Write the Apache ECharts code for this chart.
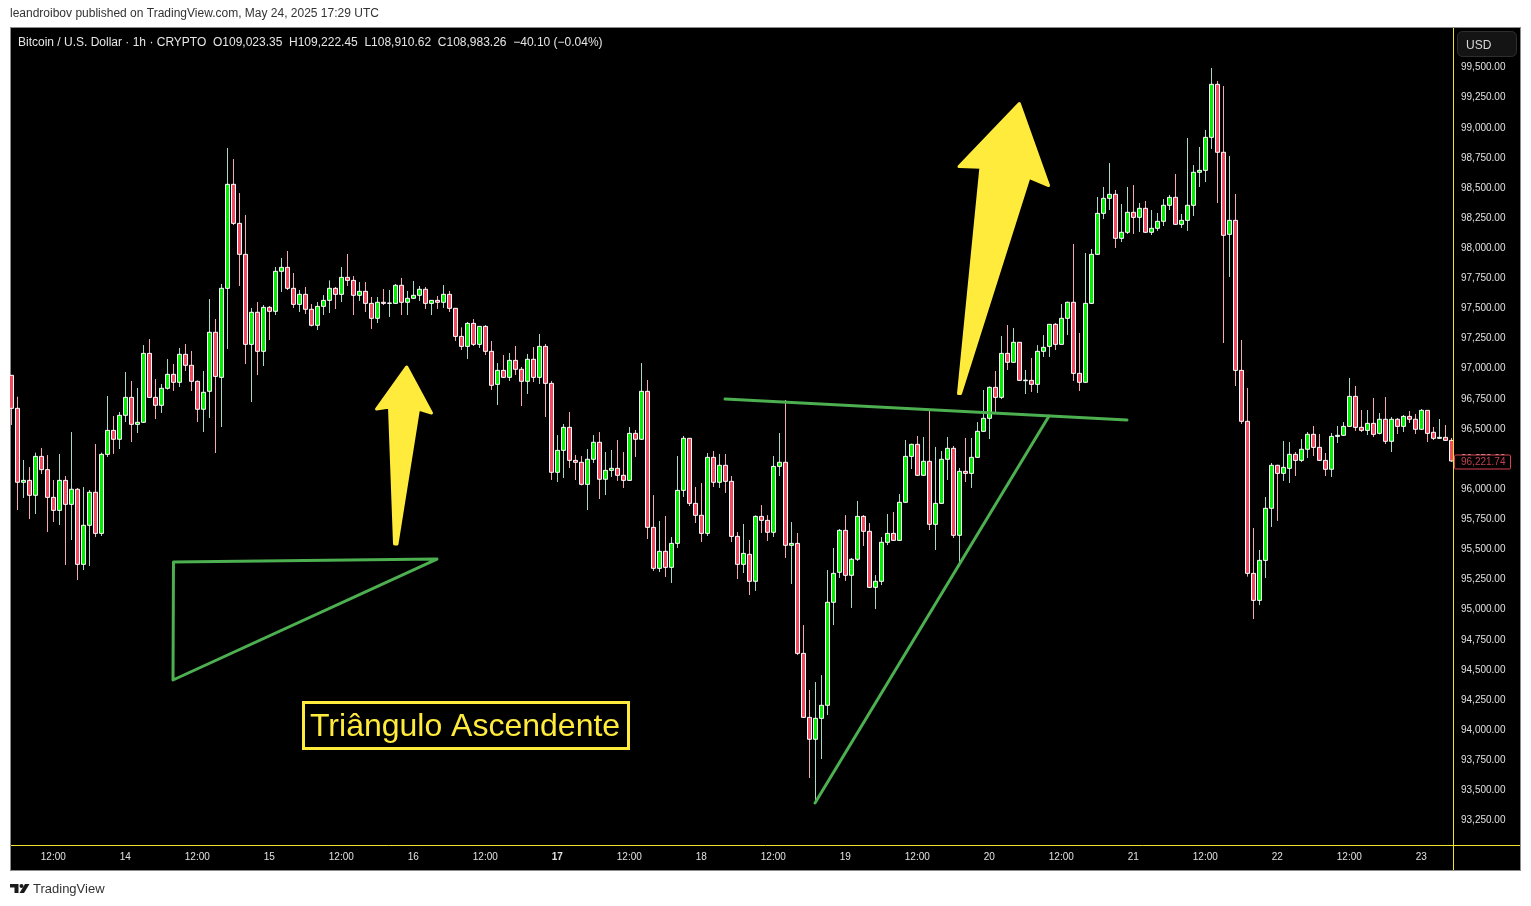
<!DOCTYPE html>
<html>
<head>
<meta charset="utf-8">
<title>Bitcoin / U.S. Dollar</title>
<script src="https://cdn.jsdelivr.net/npm/echarts@6/dist/echarts.min.js"></script>
<style>
    html, body { margin: 0; padding: 0; background: #ffffff; }
    #panel { position: absolute; left: 10px; top: 27px; width: 1509px; height: 842px; background: #000000; border: 1px solid #8c8c8c; box-sizing: content-box; }
    #main { position: absolute; left: 0; top: 0; width: 1531px; height: 906px; }
</style>
</head>
<body>
<div id="panel"></div>
<div id="main"></div>
<script>
// 1 hour candles, index 0 = first visible bar
var opens = [
    96933,96659,96045,96061,95937,96260,96150,95920,95812,96061,
    95862,95987,95364,95688,95962,95621,96277,96476,96402,96601,
    96750,96526,96543,97115,96750,96684,96825,96941,96875,97107,
    97016,96883,96651,96800,97290,96916,97655,98518,98194,97937,
    97190,97456,97132,97497,97464,97796,97829,97655,97522,97605,
    97481,97348,97505,97555,97655,97605,97746,97721,97597,97630,
    97530,97406,97539,97530,97530,97680,97539,97572,97597,97647,
    97530,97555,97539,97605,97489,97256,97173,97364,97190,97339,
    97132,96858,96974,96916,97057,96983,96883,97066,96916,97173,
    96866,96128,96310,96501,96227,96211,96028,96236,96377,96070,
    96144,96161,96103,96061,96451,96402,96800,95671,95331,95472,
    95339,95538,95978,96410,95870,95771,95621,96252,96045,96186,
    96053,95596,95364,95447,95223,95762,95729,95630,96177,96211,
    95522,95538,94625,94094,93912,94086,94194,95049,95298,95646,
    95273,95406,95762,95638,95173,95223,95547,95621,95563,95879,
    96260,96360,96103,96219,95696,95870,96236,96327,95605,96136,
    96119,96252,96468,96576,96833,96750,97115,97041,97207,96888,
    96891,96858,97132,97173,97356,97190,97406,97539,96949,96875,
    97530,97937,98277,98402,98435,98070,98120,98286,98244,98319,
    98120,98153,98211,98344,98410,98186,98219,98344,98618,98634,
    98908,99348,98784,98103,98219,96974,96551,95289,95065,95397,
    95829,96186,96119,96161,96277,96227,96319,96443,96335,96227,
    96153,96426,96435,96509,96758,96501,96476,96534,96451,96568,
    96385,96568,96509,96592,96568,96485,96642,96460,96410,96418,
    96393
];
var highs = [
    96933,96756,96230,96172,96291,96330,96271,96064,96280,96097,
    96462,95998,96006,95981,96363,96291,96761,96595,96628,96960,
    96886,96828,97184,97234,96902,96861,97068,97027,97160,97193,
    97135,96890,96969,97566,97400,97691,98820,98728,98446,98264,
    97492,97541,97516,97508,97832,97907,97965,97782,97641,97666,
    97525,97541,97599,97721,97666,97832,97940,97757,97707,97707,
    97583,97583,97649,97641,97691,97741,97633,97716,97674,97666,
    97558,97591,97682,97633,97489,97331,97375,97400,97342,97350,
    97218,97035,97101,97118,97176,97002,97110,97168,97276,97193,
    96886,96437,96529,96628,96272,96263,96321,96437,96462,96296,
    96313,96396,96296,96504,96479,97035,96894,95939,95724,95765,
    95591,96263,96429,96410,96006,96039,96288,96305,96280,96280,
    96097,95632,95699,95566,95770,95856,95773,96263,96454,96728,
    95715,95624,94860,94321,94387,94445,95317,95500,95657,95773,
    95417,95890,95773,95707,95275,95591,95782,95798,95948,96396,
    96365,96429,96421,96637,96338,96305,96421,96346,96164,96413,
    96413,96545,96811,96840,96969,97259,97350,97326,97209,96977,
    97077,97184,97267,97359,97367,97525,97545,98023,97284,97948,
    97981,98413,98496,98695,98471,98355,98496,98512,98363,98380,
    98305,98280,98396,98430,98604,98272,98903,98678,98828,98969,
    99484,99376,99334,98753,98438,97226,96828,95666,95483,95923,
    96205,96190,96388,96379,96296,96404,96462,96512,96446,96288,
    96454,96512,96545,96911,96844,96645,96645,96745,96620,96753,
    96587,96579,96603,96637,96612,96653,96645,96504,96570,96520,
    96413
];
var lows = [
    96520,95815,95915,95740,95782,96114,95632,95715,95690,95358,
    95566,95234,95317,95350,95591,95599,96255,96280,96321,96545,
    96379,96454,96537,96745,96570,96620,96814,96803,96836,96969,
    96803,96545,96462,96579,96288,96504,97151,98180,97674,97027,
    96711,96935,97010,97226,97433,97624,97641,97492,97458,97442,
    97339,97309,97433,97450,97483,97541,97674,97433,97550,97458,
    97317,97367,97516,97417,97525,97433,97433,97566,97550,97483,
    97433,97483,97492,97458,97218,97143,97068,97176,97160,97101,
    96811,96686,96911,96886,96936,96678,96778,96877,96861,96587,
    96064,96047,96081,96164,96064,96020,95815,96205,95906,95939,
    96089,96056,95998,96056,96255,96396,95574,95309,95300,95259,
    95209,95500,95923,95848,95707,95549,95599,96006,95998,95956,
    95549,95242,95292,95109,95143,95624,95558,95591,96097,95417,
    95201,94611,94089,93591,93380,93748,94113,94860,95251,95226,
    95002,95392,95516,95168,94993,95192,95524,95558,95558,95876,
    96155,96097,96097,95649,95483,95865,96064,95583,95372,96047,
    95998,96247,96462,96404,96617,96736,96977,97035,96886,96778,
    96794,96786,97085,97085,97143,97190,97267,96886,96803,96870,
    97525,97931,98230,98305,97990,98039,98106,98106,98122,98114,
    98097,98131,98172,98305,98180,98156,98131,98255,98496,98537,
    98811,98363,97201,97749,96844,96529,95262,94910,95026,95251,
    95674,95724,96056,96039,96097,96213,96247,96263,96222,96097,
    96089,96371,96429,96505,96471,96462,96437,96421,96443,96363,
    96296,96446,96462,96537,96446,96479,96379,96396,96404,96388,
    96215
];
var closes = [
    96659,96045,96061,95937,96260,96150,95920,95812,96061,95862,
    95987,95364,95688,95962,95621,96277,96476,96402,96601,96750,
    96526,96543,97115,96750,96684,96825,96941,96875,97107,97016,
    96883,96651,96792,97290,96924,97655,98518,98194,97937,97190,
    97456,97132,97497,97464,97796,97829,97655,97522,97605,97481,
    97348,97505,97555,97655,97605,97746,97721,97597,97630,97530,
    97406,97539,97530,97533,97680,97539,97572,97597,97647,97530,
    97555,97539,97605,97489,97256,97173,97364,97190,97339,97132,
    96850,96974,96916,97057,96983,96883,97066,96916,97173,96866,
    96128,96310,96501,96227,96211,96028,96236,96377,96070,96144,
    96161,96103,96061,96451,96402,96800,95671,95331,95472,95339,
    95538,95978,96410,95870,95771,95621,96252,96045,96186,96053,
    95596,95364,95455,95223,95762,95729,95630,96177,96211,95522,
    95538,94625,94094,93912,94086,94194,95049,95289,95646,95273,
    95406,95762,95638,95173,95223,95547,95621,95563,95879,96260,
    96360,96103,96219,95696,95870,96236,96327,95605,96136,96119,
    96252,96468,96576,96833,96750,97115,97041,97207,96891,96893,
    96858,97132,97165,97356,97190,97406,97539,96949,96875,97530,
    97937,98277,98402,98435,98070,98120,98286,98244,98319,98120,
    98153,98211,98344,98410,98186,98219,98344,98618,98634,98908,
    99348,98784,98095,98219,96974,96551,95289,95065,95397,95829,
    96186,96119,96169,96277,96227,96319,96443,96335,96227,96153,
    96426,96435,96509,96758,96501,96476,96534,96443,96568,96385,
    96568,96509,96592,96568,96485,96642,96451,96410,96418,96393,
    96221.74
];

// tick labels
var priceTicks = [93250,93500,93750,94000,94250,94500,94750,95000,95250,95500,95750,96000,96250,96500,96750,97000,97250,97500,97750,98000,98250,98500,98750,99000,99250,99500];
var timeTickBars = [7,19,31,43,55,67,79,91,103,115,127,139,151,163,175,187,199,211,223,235];
var timeTickLabels = ['12:00','14','12:00','15','12:00','16','12:00','17','12:00','18','12:00','19','12:00','20','12:00','21','12:00','22','12:00','23'];

// drawings on the chart, as [bar index, price]
var triangleLeft = [[27.03,95383],[70.95,95408],[26.95,94404],[27.03,95383]];
var resistanceLine = [[118.95,96736],[185.95,96562]];
var supportLine = [[172.95,96595],[133.95,93383]];
var arrowSmall = [[65.9,97002],[70.03,96620],[67.87,96653],[64.28,95533],[63.87,95533],[63.03,96670],[60.87,96653]];
var arrowBig = [[168,99189],[172.87,98508],[169.62,98576],[158.2,96782],[157.87,96782],[161.6,98659],[157.95,98666]];

var headline = 'Bitcoin / U.S. Dollar · 1h · CRYPTO  O109,023.35  H109,222.45  L108,910.62  C108,983.26  −40.10 (−0.04%)';
var publishedLine = 'leandroibov published on TradingView.com, May 24, 2025 17:29 UTC';

var FONT = '"Liberation Sans", Arial, sans-serif';
var YELLOW = '#ffeb3b';
var LINE_GREEN = '#4caf50';
var AXIS_YELLOW = '#f2e230';

var wickData = opens.map(function(o, i) {
    return [i, o, closes[i], lows[i], highs[i]];
});
var bodyData = opens.map(function(o, i) {
    return [i, o, closes[i], Math.min(o, closes[i]), Math.max(o, closes[i])];
});

function drawingLine(name, points) {
    return {
        name: name,
        type: 'line',
        data: points,
        symbol: 'none',
        silent: true,
        z: 5,
        lineStyle: { color: LINE_GREEN, width: 3, cap: 'round', join: 'round' }
    };
}

function drawingArrow(name, points) {
    return {
        name: name,
        type: 'custom',
        data: points,
        silent: true,
        z: 6,
        encode: { x: 0, y: 1 },
        renderItem: function(params, api) {
            if (params.dataIndex !== 0) return;
            return {
                type: 'polygon',
                shape: { points: points.map(function(p) { return api.coord(p); }) },
                style: { fill: YELLOW, stroke: YELLOW, lineWidth: 3, lineJoin: 'round' }
            };
        }
    };
}

var chart = echarts.init(document.getElementById('main'));

var option = {
    animation: false,
    backgroundColor: 'transparent',
    title: [
        { text: publishedLine, left: 10, top: 8, padding: 0, textStyle: { color: '#333333', fontSize: 12, fontWeight: 'normal', fontFamily: FONT } },
        { text: headline, left: 18, top: 37, padding: 0, textStyle: { color: '#e6e6e6', fontSize: 12, fontWeight: 'normal', fontFamily: FONT } }
    ],
    grid: { left: 11, right: 78, top: 28, bottom: 61, containLabel: false },
    xAxis: {
        type: 'value',
        min: -0.05,
        max: 240.28,
        splitLine: { show: false },
        axisTick: { show: false },
        axisLine: { show: false },
        axisLabel: {
            customValues: timeTickBars,
            margin: 7,
            color: '#e0e0e0',
            fontSize: 10,
            fontFamily: FONT,
            hideOverlap: false,
            formatter: function(value) {
                var label = timeTickLabels[timeTickBars.indexOf(value)];
                return label === '17' ? '{bold|17}' : label;
            },
            rich: { bold: { fontWeight: 'bold', fontSize: 10, color: '#e0e0e0', fontFamily: FONT } }
        }
    },
    yAxis: {
        type: 'value',
        position: 'right',
        min: 93034.5,
        max: 99815.6,
        splitLine: { show: false },
        axisTick: { show: false },
        axisLine: { show: false },
        axisLabel: {
            customValues: priceTicks,
            margin: 8,
            // nudges the labels about a pixel below the price level, as on the original scale
            verticalAlign: 'top',
            lineHeight: 3,
            color: '#e0e0e0',
            fontSize: 10,
            fontFamily: FONT,
            formatter: function(value) {
                return value.toLocaleString('en-US', { minimumFractionDigits: 2, maximumFractionDigits: 2 });
            }
        }
    },
    series: [
        {
            // wicks only, thin pale lines under the bodies
            name: 'Wicks',
            type: 'candlestick',
            data: wickData,
            encode: { x: 0, y: [1, 2, 3, 4] },
            barWidth: 1,
            silent: true,
            z: 2,
            itemStyle: { color: 'transparent', color0: 'transparent', borderColor: '#a9d8c6', borderColor0: '#f4a8b5', borderWidth: 1 }
        },
        {
            name: 'Bitcoin / U.S. Dollar',
            type: 'candlestick',
            data: bodyData,
            encode: { x: 0, y: [1, 2, 3, 4] },
            barWidth: 4,
            z: 3,
            itemStyle: { color: '#00f000', color0: '#f24a60', borderColor: '#ffffff', borderColor0: '#ffffff', borderWidth: 1 }
        },
        drawingLine('Triangle', triangleLeft),
        drawingLine('Resistance', resistanceLine),
        drawingLine('Support', supportLine),
        drawingArrow('Arrow small', arrowSmall),
        drawingArrow('Arrow big', arrowBig)
    ]
};
chart.setOption(option);

// last price tag needs the y scale, so it goes in after the first setOption
var lastPrice = closes[closes.length - 1];
var lastY = Math.round(chart.convertToPixel({ yAxisIndex: 0 }, lastPrice)) + 1;

chart.setOption({
    graphic: { elements: [
        // axis lines run into the scale corner
        { type: 'line', shape: { x1: 1453.5, y1: 28, x2: 1453.5, y2: 870 }, style: { stroke: AXIS_YELLOW, lineWidth: 1 }, z: 4 },
        { type: 'line', shape: { x1: 11, y1: 845.5, x2: 1520, y2: 845.5 }, style: { stroke: AXIS_YELLOW, lineWidth: 1 }, z: 4 },
        // USD button
        { type: 'rect', shape: { x: 1457.5, y: 31.5, width: 59, height: 25, r: 5 }, style: { fill: '#141414', stroke: '#2e2e2e', lineWidth: 1 }, z: 7 },
        { type: 'text', x: 1466, y: 45.5, style: { text: 'USD', fill: '#d8d8d8', font: '12px ' + FONT, verticalAlign: 'middle' }, z: 8 },
        // last price tag
        { type: 'rect', shape: { x: 1454.5, y: lastY - 7, width: 56, height: 14, r: 1 }, style: { fill: '#000000', stroke: '#d9404f', lineWidth: 1 }, z: 7 },
        { type: 'text', x: 1461, y: lastY + 0.5, style: { text: lastPrice.toLocaleString('en-US', { minimumFractionDigits: 2 }), fill: '#c0404f', font: '10px ' + FONT, verticalAlign: 'middle' }, z: 8 },
        // caption box
        { type: 'rect', shape: { x: 303.5, y: 702.5, width: 325, height: 46 }, style: { fill: '#000000', stroke: YELLOW, lineWidth: 3 }, z: 7 },
        { type: 'text', x: 310, y: 727.5, style: { text: 'Triângulo Ascendente', fill: YELLOW, font: '32px ' + FONT, verticalAlign: 'middle' }, z: 8 },
        // TradingView footer
        { type: 'polygon', shape: { points: [[10, 884], [18.5, 884], [18.5, 893], [14.5, 893], [14.5, 887.5], [10, 887.5]] }, style: { fill: '#1a1a1a' }, z: 8 },
        { type: 'circle', shape: { cx: 21.5, cy: 886, r: 2 }, style: { fill: '#1a1a1a' }, z: 8 },
        { type: 'polygon', shape: { points: [[25, 884], [29.5, 884], [24, 893], [19.5, 893]] }, style: { fill: '#1a1a1a' }, z: 8 },
        { type: 'text', x: 33, y: 889.5, style: { text: 'TradingView', fill: '#333333', font: '13px ' + FONT, verticalAlign: 'middle' }, z: 8 }
    ] }
});
</script>
</body>
</html>
